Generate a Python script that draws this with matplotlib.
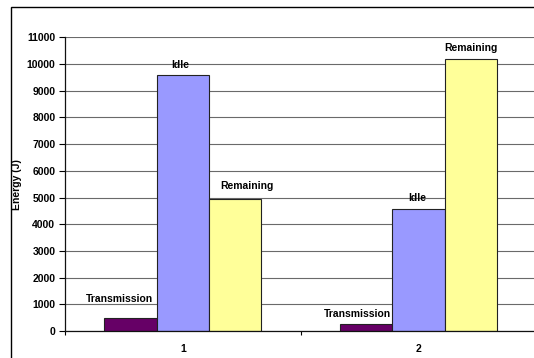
import matplotlib
matplotlib.use("Agg")
import matplotlib.pyplot as plt
from matplotlib.patches import Rectangle
import numpy as np

plt.rcParams['font.family'] = ['Liberation Sans', 'DejaVu Sans']
plt.rcParams['font.weight'] = 'bold'

groups = ['1', '2']
series = ['Transmission', 'Idle', 'Remaining']
transmission = [480, 250]
idle = [9600, 4570]
remaining = [4950, 10200]
colors = ['#660066', '#9999FF', '#FFFF99']

# hand-placed label offsets (points), like the original sheet
label_offsets = [
    [(-8.3, 13.5), (-6.1, 7.2)],
    [(-2.2, 7.2), (-0.7, 8.2)],
    [(8.6, 9.1), (0.4, 7.9)],
]

W, H = 534, 358
fig = plt.figure(figsize=(W / 100, H / 100), dpi=100)
ax = fig.add_axes([65 / W, 1 - 331 / H, 471.4 / W, 293.7 / H])

# chart border
fig.add_artist(Rectangle((11 / W, -0.1), 1.2, (H - 6.7) / H + 0.1,
                         transform=fig.transFigure, fill=False,
                         lw=1.0, ec='black'))

fs = 7.5
x = np.arange(1, len(groups) + 1)
w = 0.222
values = [transmission, idle, remaining]
for i, (name, vals) in enumerate(zip(series, values)):
    pos = x + (i - 1) * w
    ax.bar(pos, vals, width=w, color=colors[i], edgecolor='#222222',
           linewidth=0.8, zorder=3)
    for j, (px, v) in enumerate(zip(pos, vals)):
        dx, dy = label_offsets[i][j]
        ax.annotate(name, (px, v), xytext=(dx, dy), textcoords='offset points',
                    ha='center', va='center', fontsize=fs, fontweight='bold',
                    zorder=4)

ax.set_xlim(0.5, 2.5)
ax.set_ylim(0, 11000)
ax.set_yticks(np.arange(0, 11001, 1000))
ax.yaxis.grid(True, color='#6a6a6a', linewidth=0.8, zorder=0)
ax.set_axisbelow(True)

ax.set_xticks([0.5, 1.5, 2.5])
ax.set_xticklabels([])
ax.set_xticks(x, minor=True)
ax.set_xticklabels(groups, minor=True)
ax.tick_params(axis='x', which='major', direction='out', length=3, width=0.8)
ax.tick_params(axis='x', which='minor', length=0, pad=9.5, labelsize=fs)
ax.tick_params(axis='y', direction='out', length=4, width=0.8, pad=3, labelsize=fs)

for s in ['top', 'right']:
    ax.spines[s].set_visible(False)
for s in ['left', 'bottom']:
    ax.spines[s].set_color('#111111')
    ax.spines[s].set_linewidth(0.9)
    ax.spines[s].set_zorder(5)

ax.set_ylabel('Energy (J)', fontsize=fs, fontweight='bold')
ax.yaxis.set_label_coords((21.5 - 65) / 471.4, 0.5)

fig.savefig('out.png', dpi=100)
